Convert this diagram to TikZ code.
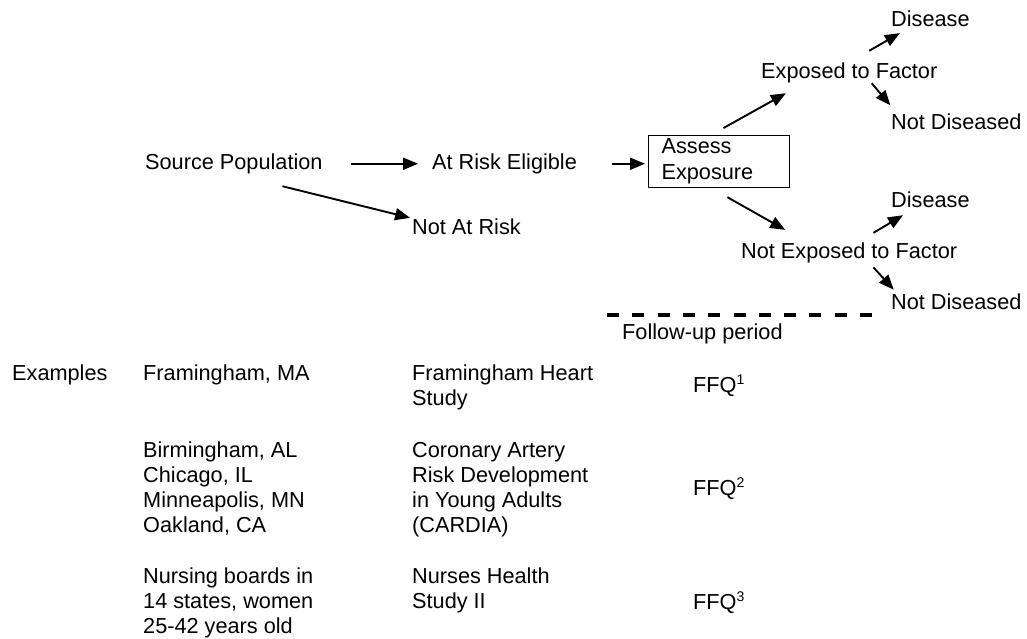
\documentclass[tikz,border=0pt]{standalone}
\usepackage{fontspec}
\setmainfont{Liberation Sans}
\usetikzlibrary{arrows.meta}
\newcommand{\ffq}[1]{FFQ\raisebox{8.5pt}{\fontsize{14}{14}\selectfont #1}}
\begin{document}
\begin{tikzpicture}[x=1pt,y=-1pt,line join=round,
	lbl/.style={inner sep=0pt,anchor=base west,text height=16pt,text depth=4.5pt,font=\fontsize{21.7}{25}\selectfont},
	txt/.style={inner sep=0pt,anchor=north west,align=left,font=\fontsize{21.7}{25}\selectfont},
	arr/.style={line width=1.9pt,-{Triangle[length=15pt,width=12pt]}}]
	\useasboundingbox (0,0) rectangle (1027,638);
	%so do
	\node[lbl] (src) at (145,169.5) {Source Population};
	\node[lbl] (elig) at (432,169.5) {At Risk Eligible};
	\node[lbl] (notrisk) at (412,234.5) {Not At Risk};
	\node[draw,line width=1.2pt,anchor=north west,inner xsep=13pt,inner ysep=0pt,text width=115pt,minimum height=52pt,align=left,font=\fontsize{21.7}{26}\selectfont] (assess) at (648,135) {Assess\\Exposure};
	\node[lbl] (expo) at (761,78.5) {Exposed to Factor};
	\node[lbl] (dis1) at (891,26.5) {Disease};
	\node[lbl] (nodis1) at (891,129.5) {Not Diseased};
	\node[lbl] (noexpo) at (741,258.5) {Not Exposed to Factor};
	\node[lbl] (dis2) at (891,207.5) {Disease};
	\node[lbl] (nodis2) at (891,309.5) {Not Diseased};
	\draw[arr,shorten <=28pt,shorten >=14pt] (src.east) -- (elig.west);
	\draw[arr,shorten <=50pt,shorten >=2pt] (src.south) -- (notrisk.north west);
	\draw[arr,shorten <=35pt,shorten >=3pt] (elig.east) -- (elig.east -| assess.west);
	\draw[arr,shorten <=14.3pt,shorten >=20.7pt] (assess.107) -- (expo.193);
	\draw[arr,shorten <=23pt,shorten >=3.8pt] (expo.north) -- (dis1.201);
	\draw[arr,shorten >=10.4pt] (expo.335) -- (nodis1.170);
	\draw[arr,shorten <=18.3pt,shorten >=25.3pt] (assess.254) -- (noexpo.166);
	\draw[arr,shorten <=18.4pt,shorten >=5.8pt] (noexpo.51) -- (dis2.205);
	\draw[arr,shorten <=5.7pt,shorten >=4.9pt] (noexpo.333) -- (nodis2.170);
	%thoi gian theo doi
	\draw[line width=3.2pt,dash pattern=on 12pt off 13.3pt] (607,315) -- (875,315);
	\node[lbl] (follow) at (622,339.5) {Follow-up period};
	%vi du
	\node[txt] (ex) at (12,365) {Examples};
	\node[txt] (place1) at (143,365) {Framingham, MA};
	\node[txt] (place2) at (143,442) {Birmingham, AL\\Chicago, IL\\Minneapolis, MN\\Oakland, CA};
	\node[txt] (place3) at (143,568) {Nursing boards in\\14 states, women\\25-42 years old};
	\node[txt] (study1) at (412,365) {Framingham Heart\\Study};
	\node[txt] (study2) at (412,442) {Coronary Artery\\Risk Development\\in Young Adults\\(CARDIA)};
	\node[txt] (study3) at (412,568) {Nurses Health\\Study II};
	\node[lbl] (ffq1) at (693,392.8) {\ffq{1}};
	\node[lbl] (ffq2) at (693,495.8) {\ffq{2}};
	\node[lbl] (ffq3) at (693,609.8) {\ffq{3}};
\end{tikzpicture}
\end{document}
